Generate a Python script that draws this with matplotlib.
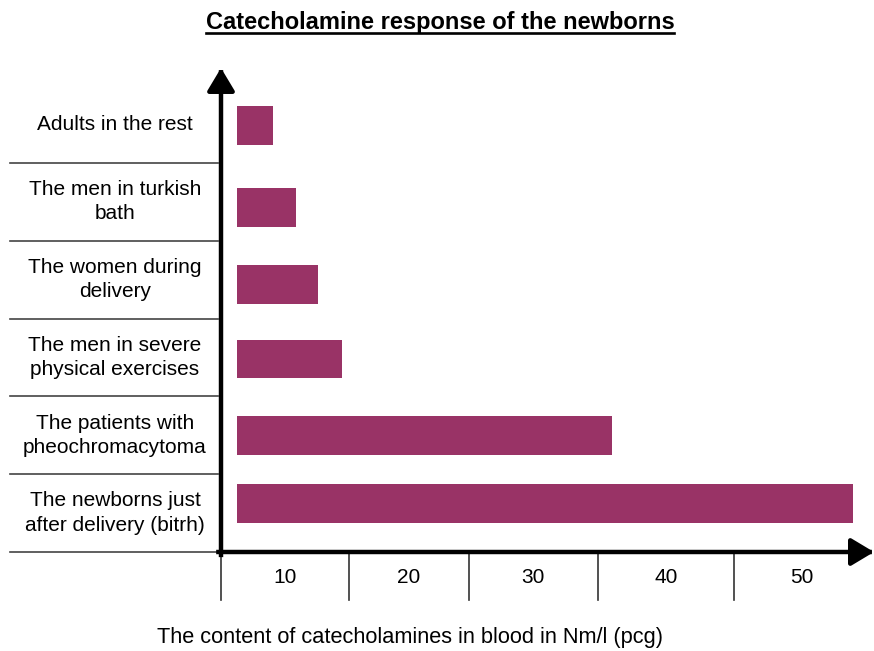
import matplotlib.pyplot as plt
from matplotlib.lines import Line2D
from matplotlib.patches import ArrowStyle

plt.rcParams['font.family'] = ['Liberation Sans', 'DejaVu Sans']

categories = ["Adults in the rest",
              "The men in turkish\nbath",
              "The women during\ndelivery",
              "The men in severe\nphysical exercises",
              "The patients with\npheochromacytoma",
              "The newborns just\nafter delivery (bitrh)"]
values = [4.0, 5.8, 7.5, 9.3, 30.2, 48.8]
tick_labels = ["10", "20", "30", "40", "50"]
tick_bounds = [0, 9.9, 19.1, 29.1, 39.6, 50]

bar_color = "#993366"
bar_start = 1.2
# bars are not exactly centred in their rows in the original drawing
bar_shift = [0.02, 0.07, 0.06, 0.02, 0.0, -0.12]

fig = plt.figure(figsize=(8.74, 6.51), dpi=100)
ax = fig.add_axes([221 / 874, 1 - 552 / 651, 648 / 874, 484 / 651])

ypos = [i + s for i, s in enumerate(bar_shift)]
ax.barh(ypos, [v - bar_start for v in values], left=bar_start, height=0.5,
        color=bar_color)
ax.set_xlim(0, 50)
ax.set_ylim(5.5, -0.72)
ax.axis('off')

# axes with arrow heads
arrow = ArrowStyle('-|>', head_length=0.5, head_width=0.3)
ax.annotate('', xy=(0, 1.0), xytext=(0, -0.006), xycoords='axes fraction',
            arrowprops=dict(arrowstyle=arrow, lw=3.2, color='black',
                            mutation_scale=28, shrinkA=0, shrinkB=0,
                            capstyle='projecting'))
ax.annotate('', xy=(1.0077, 0), xytext=(-0.004, 0), xycoords='axes fraction',
            arrowprops=dict(arrowstyle=arrow, lw=3.2, color='black',
                            mutation_scale=28, shrinkA=0, shrinkB=0,
                            capstyle='projecting'))

# category labels with row separators
ytr = ax.get_yaxis_transform()
for i, lab in enumerate(categories):
    ax.text(-0.1636, i, lab, transform=ytr, ha='center', va='center',
            fontsize=15, linespacing=1.35)
    ax.add_line(Line2D([-0.3256, -0.004], [i + 0.5, i + 0.5], transform=ytr,
                       color='#444444', lw=1.2, clip_on=False))

# value cells under the x axis
xtr = ax.get_xaxis_transform()
for b in tick_bounds[:-1]:
    ax.add_line(Line2D([b, b], [0, -0.099], transform=xtr, color='#333333',
                       lw=1.2, clip_on=False))
for lab, a, b in zip(tick_labels, tick_bounds[:-1], tick_bounds[1:]):
    ax.text((a + b) / 2, -0.052, lab, transform=xtr, ha='center', va='center',
            fontsize=15)

fig.text(410 / 874, 1 - 637 / 651, "The content of catecholamines in blood in Nm/l (pcg)",
         ha='center', va='center', fontsize=15.7)

title = fig.text(440 / 874, 1 - 22 / 651, "Catecholamine response of the newborns",
                 ha='center', va='center', fontsize=17, fontweight='bold')
fig.canvas.draw()
bb = title.get_window_extent()
fig.add_artist(Line2D([bb.x0, bb.x1], [bb.y0 + 1, bb.y0 + 1], transform=None,
                      color='black', lw=1.9))

fig.savefig('out.png', dpi=100)
